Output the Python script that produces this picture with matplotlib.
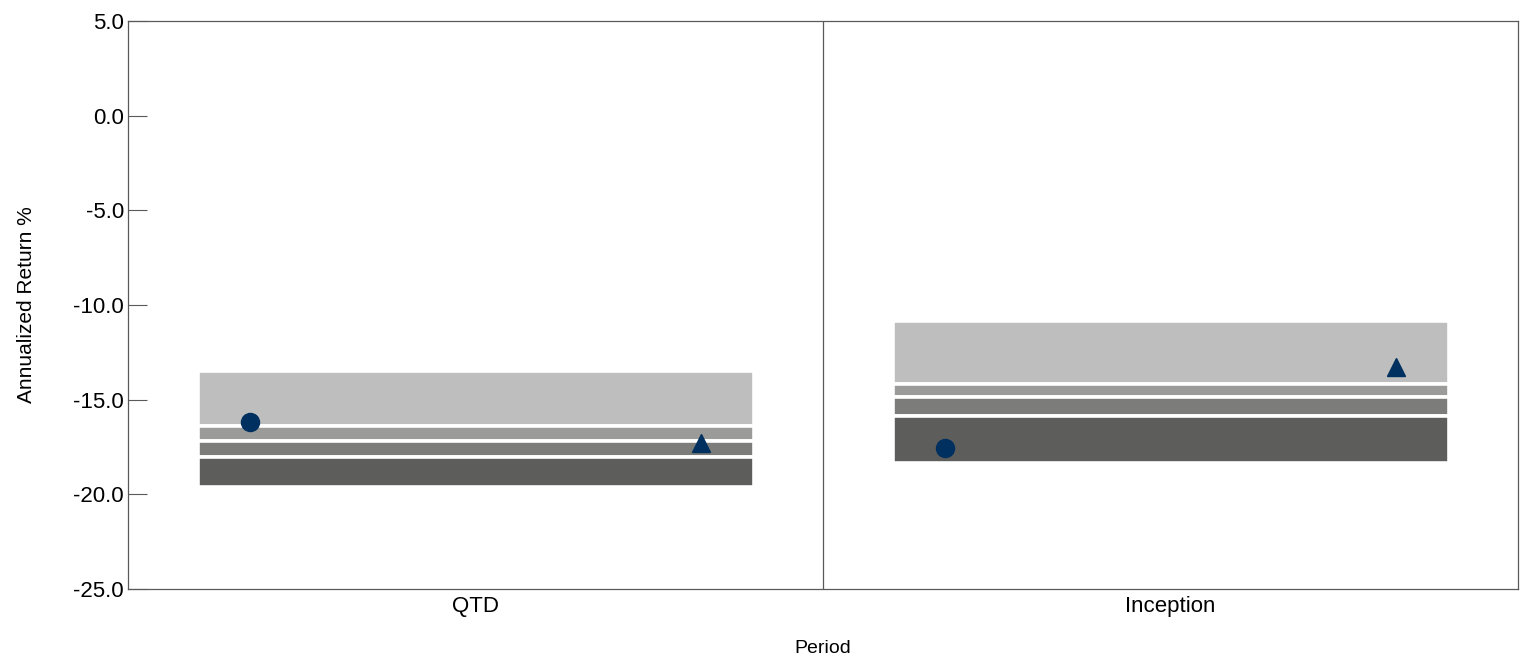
"""Quartile band chart: annualized return by period."""

import matplotlib
matplotlib.use("Agg")
import matplotlib.pyplot as plt
from matplotlib import font_manager


CATEGORIES = ["QTD", "Inception"]
# band edges from top to bottom: 5th, 25th, median, 75th, 95th percentile
PCT_05 = [-13.50, -10.85]
PCT_25 = [-16.40, -14.17]
PCT_50 = [-17.19, -14.86]
PCT_75 = [-18.01, -15.87]
PCT_95 = [-19.60, -18.34]
PORTFOLIO = [-16.18, -17.56]
BENCHMARK = [-17.27, -13.25]
Y_TICKS = [5.0, 0.0, -5.0, -10.0, -15.0, -20.0, -25.0]

BAND_COLORS = ["#bebebe", "#9b9c99", "#7c7d7a", "#5d5e5b"]
MARKER_COLOR = "#00305f"
SPINE_COLOR = "#5a5a5a"


def pick_font(*names):
    available = {f.name for f in font_manager.fontManager.ttflist}
    for name in names:
        if name in available:
            return name
    return "DejaVu Sans"


regular = pick_font("Liberation Sans", "Arial")
narrow = pick_font("Liberation Sans Narrow", "Liberation Sans")

fig = plt.figure(figsize=(15.22, 6.61), dpi=100)
ax = fig.add_axes([0.0841, 0.1089, 0.9133, 0.8593])

x = list(range(len(CATEGORIES)))
edges = [PCT_05, PCT_25, PCT_50, PCT_75, PCT_95]
for i, color in enumerate(BAND_COLORS):
    top, bottom = edges[i], edges[i + 1]
    heights = [t - b for t, b in zip(top, bottom)]
    ax.bar(x, heights, bottom=bottom, width=0.8, color=color,
           edgecolor="white", linewidth=2.6, zorder=2)

ax.plot([p - 0.325 for p in x], PORTFOLIO, "o", color=MARKER_COLOR,
        markersize=13, zorder=3)
ax.plot([p + 0.325 for p in x], BENCHMARK, "^", color=MARKER_COLOR,
        markersize=13, zorder=3)

ax.set_xlim(-0.5, len(CATEGORIES) - 0.5)
ax.set_ylim(-25, 5)
ax.axvline(0.5, color=SPINE_COLOR, linewidth=0.9, zorder=1)

ax.set_yticks(Y_TICKS)
ax.set_yticklabels([f"{v:.1f}" for v in Y_TICKS], fontfamily=narrow, fontsize=16)
ax.set_xticks(x)
ax.set_xticklabels(CATEGORIES, fontfamily=narrow, fontsize=16)
ax.tick_params(axis="y", direction="in", length=14, color=SPINE_COLOR, pad=3)
ax.tick_params(axis="x", length=0, pad=5)

for spine in ax.spines.values():
    spine.set_color(SPINE_COLOR)
    spine.set_linewidth(0.9)

ax.set_ylabel("Annualized Return %", fontfamily=regular, fontsize=15)
ax.yaxis.set_label_coords(-0.066, 0.5)
ax.set_xlabel("Period", fontfamily=regular, fontsize=14)
ax.xaxis.set_label_coords(0.5, -0.09)

fig.savefig("out.png", dpi=100)
plt.close(fig)
